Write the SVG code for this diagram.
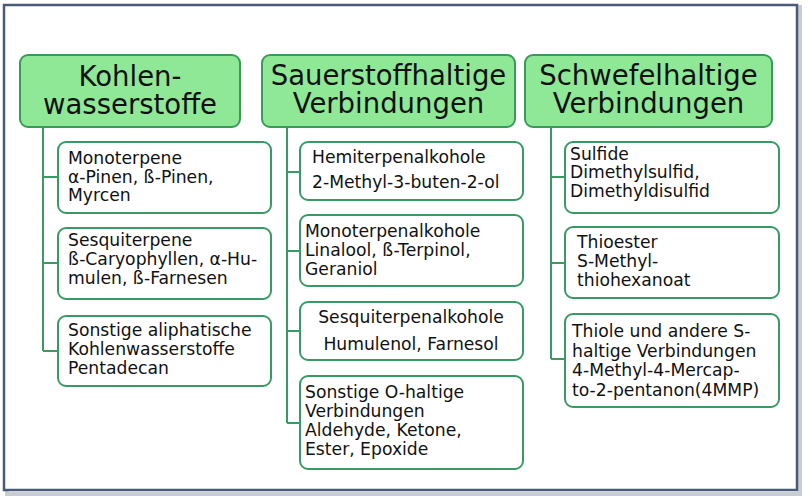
<svg xmlns="http://www.w3.org/2000/svg" width="808" height="500" viewBox="0 0 808 500">
<style>
.hdr rect{fill:#8fe896;stroke:#3a9a5c;stroke-width:2}
.box rect{fill:#ffffff;stroke:#3a9a66;stroke-width:2}
.ht{font-family:"DejaVu Sans",Verdana,sans-serif;font-size:27.5px;fill:#111;text-anchor:middle}
.bt{font-family:"DejaVu Sans",Verdana,sans-serif;font-size:17.2px;fill:#111}
.c{text-anchor:middle}
#connectors path{fill:none;stroke:#3a9a66;stroke-width:2}
</style>
<rect width="808" height="500" fill="#ffffff"/>
<rect x="7" y="7" width="793" height="487" fill="none" stroke="#c8ccd4" stroke-width="4"/>
<rect x="4" y="5" width="793" height="485" fill="#ffffff" stroke="#4b5a78" stroke-width="2.5"/>
<g id="connectors">
<path d="M43 127V351M43 177H58M43 263H58M43 351H58"/>
<path d="M287 127V423M287 172H300M287 251H300M287 331H300M287 423H300"/>
<path d="M551 127V359M551 177H565M551 263H565M551 359H565"/>
</g>
<g id="h1" class="hdr"><rect x="20" y="55" width="220" height="72" rx="8"/><text class="ht" x="130" y="86">Kohlen-</text><text class="ht" x="130" y="114">wasserstoffe</text></g>
<g id="h2" class="hdr"><rect x="262" y="55" width="253" height="72" rx="8"/><text class="ht" x="388.5" y="85">Sauerstoffhaltige</text><text class="ht" x="388.5" y="113">Verbindungen</text></g>
<g id="h3" class="hdr"><rect x="525" y="55" width="247" height="72" rx="8"/><text class="ht" x="648.5" y="85">Schwefelhaltige</text><text class="ht" x="648.5" y="113">Verbindungen</text></g>
<g id="c1" class="box"><rect x="58" y="142" width="213" height="71" rx="8"/><text class="bt" x="68" y="164">Monoterpene</text><text class="bt" x="68" y="183">α-Pinen, ß-Pinen,</text><text class="bt" x="68" y="201">Myrcen</text></g>
<g id="c2" class="box"><rect x="58" y="228" width="213" height="71" rx="8"/><text class="bt" x="68" y="246">Sesquiterpene</text><text class="bt" x="68" y="265">ß-Caryophyllen, α-Hu-</text><text class="bt" x="68" y="284">mulen, ß-Farnesen</text></g>
<g id="c3" class="box"><rect x="58" y="316" width="213" height="70" rx="8"/><text class="bt" x="68" y="336">Sonstige aliphatische</text><text class="bt" x="68" y="355">Kohlenwasserstoffe</text><text class="bt" x="68" y="374">Pentadecan</text></g>
<g id="d1" class="box"><rect x="300" y="142" width="223" height="58" rx="8"/><text class="bt" x="312" y="163">Hemiterpenalkohole</text><text class="bt" x="312" y="188">2-Methyl-3-buten-2-ol</text></g>
<g id="d2" class="box"><rect x="300" y="215" width="223" height="71" rx="8"/><text class="bt" x="305" y="237">Monoterpenalkohole</text><text class="bt" x="305" y="256">Linalool, ß-Terpinol,</text><text class="bt" x="305" y="275">Geraniol</text></g>
<g id="d3" class="box"><rect x="300" y="302" width="223" height="58" rx="8"/><text class="bt c" x="411" y="323">Sesquiterpenalkohole</text><text class="bt c" x="411" y="350">Humulenol, Farnesol</text></g>
<g id="d4" class="box"><rect x="300" y="376" width="223" height="93" rx="8"/><text class="bt" x="305" y="398">Sonstige O-haltige</text><text class="bt" x="305" y="417">Verbindungen</text><text class="bt" x="305" y="436">Aldehyde, Ketone,</text><text class="bt" x="305" y="455">Ester, Epoxide</text></g>
<g id="e1" class="box"><rect x="565" y="142" width="214" height="71" rx="8"/><text class="bt" x="570" y="160">Sulfide</text><text class="bt" x="570" y="178">Dimethylsulfid,</text><text class="bt" x="570" y="197">Dimethyldisulfid</text></g>
<g id="e2" class="box"><rect x="565" y="227" width="214" height="71" rx="8"/><text class="bt" x="577" y="248">Thioester</text><text class="bt" x="577" y="267">S-Methyl-</text><text class="bt" x="577" y="286">thiohexanoat</text></g>
<g id="e3" class="box"><rect x="565" y="314" width="214" height="93" rx="8"/><text class="bt" x="572" y="337">Thiole und andere S-</text><text class="bt" x="572" y="357">haltige Verbindungen</text><text class="bt" x="572" y="376">4-Methyl-4-Mercap-</text><text class="bt" x="572" y="396">to-2-pentanon(4MMP)</text></g>
</svg>
